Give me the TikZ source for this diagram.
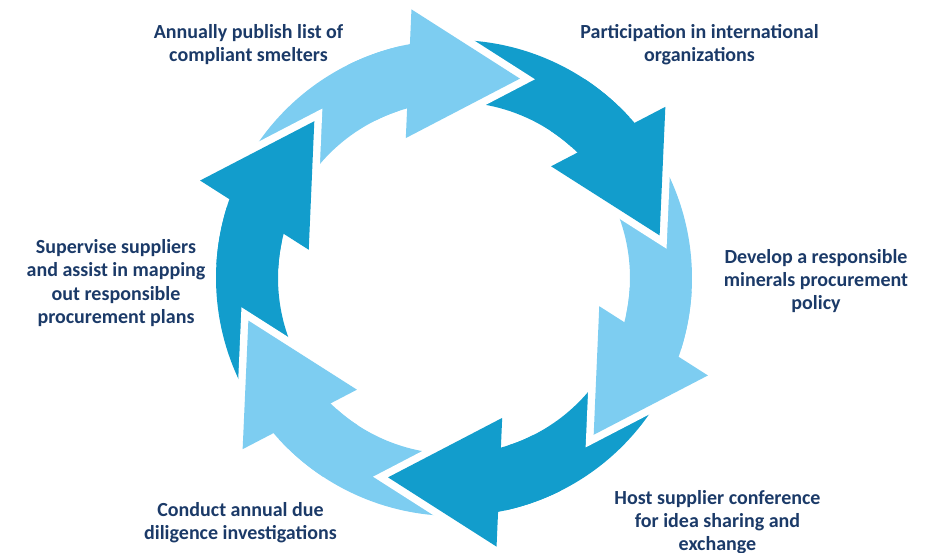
\documentclass[tikz,border=0pt]{standalone}
\usepackage{fontspec}
\setmainfont{Carlito}
\definecolor{lightb}{HTML}{7DCDF1}
\definecolor{darkb}{HTML}{129DCC}
\definecolor{navy}{HTML}{1B3A68}
\begin{document}
\begin{tikzpicture}[x=1pt,y=1pt,
  label/.style={font=\fontsize{20}{23.3}\selectfont\bfseries, text=navy, align=center, inner sep=0pt}]
\useasboundingbox (0,0) rectangle (943,553);
\coordinate (c) at (454,275);
% pass 1: full arrows
\foreach \a/\col in {71.7/lightb, 11.7/darkb, -48.3/lightb, -108.3/darkb, 191.7/lightb, 131.7/darkb}{
  \begin{scope}[shift={(c)}, rotate=\a]
    \fill[\col] (80:238pt) arc[start angle=80, end angle=29, radius=238pt]
      -- (27.3:272pt) -- (0:210pt) -- (37.3:148pt) -- (33.7:176pt)
      arc[start angle=33.7, end angle=80, radius=176pt] -- cycle;
  \end{scope}
}
% pass 2: white gaps around heads
\foreach \a in {71.7, 11.7, -48.3, -108.3, 191.7, 131.7}{
  \begin{scope}[shift={(c)}, rotate=\a]
    \draw[white, line width=15pt, miter limit=10] (27.3:272pt) -- (0:210pt) -- (37.3:148pt) -- cycle;
  \end{scope}
}
% pass 3: heads on top
\foreach \a/\col in {71.7/lightb, 11.7/darkb, -48.3/lightb, -108.3/darkb, 191.7/lightb, 131.7/darkb}{
  \begin{scope}[shift={(c)}, rotate=\a]
    \fill[\col] (27.3:272pt) -- (0:210pt) -- (37.3:148pt) -- cycle;
    \fill[\col] (25:238pt) arc[start angle=25, end angle=45, radius=238pt]
      -- (45:176pt) arc[start angle=45, end angle=25, radius=176pt] -- cycle;
  \end{scope}
}
% labels
\node[label] (t1) at (248.5,508.5) {Annually publish list of\\compliant smelters};
\node[label] (t2) at (699.5,508.5) {Participation in international\\organizations};
\node[label] (t3) at (816,272) {Develop a responsible\\minerals procurement\\policy};
\node[label] (t4) at (717.5,31) {Host supplier conference\\for idea sharing and\\exchange};
\node[label] (t5) at (240.5,30) {Conduct annual due\\diligence investigations};
\node[label] (t6) at (116,270) {Supervise suppliers\\and assist in mapping\\out responsible\\procurement plans};
\end{tikzpicture}
\end{document}
